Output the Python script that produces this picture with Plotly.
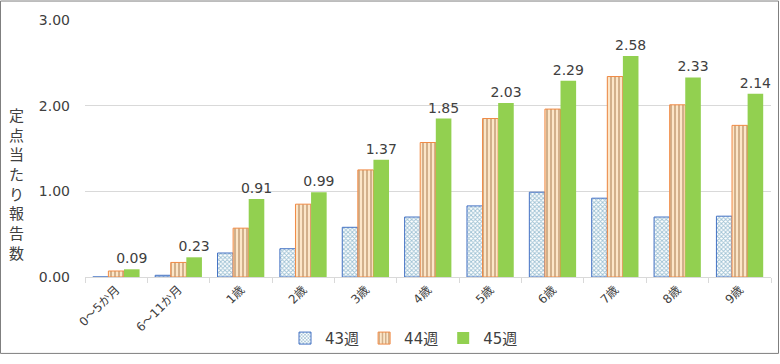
import plotly.graph_objects as go

categories = ["0～5か月", "6～11か月", "1歳", "2歳", "3歳", "4歳", "5歳", "6歳", "7歳", "8歳", "9歳"]
w43 = [0.00, 0.02, 0.28, 0.33, 0.58, 0.70, 0.83, 0.99, 0.92, 0.70, 0.71]
w44 = [0.07, 0.17, 0.57, 0.85, 1.25, 1.57, 1.85, 1.96, 2.34, 2.01, 1.77]
w45 = [0.09, 0.23, 0.91, 0.99, 1.37, 1.85, 2.03, 2.29, 2.58, 2.33, 2.14]
series_names = ["43週", "44週", "45週"]
yticks = [0, 1, 2, 3]
ytitle = "定点当たり報告数"

FONT = "DejaVu Sans, Noto Sans CJK JP"
W, H = 780, 364
L, R, T, B = 85, 9, 20, 80

fig = go.Figure()
fig.add_trace(go.Bar(
    x=categories, y=w43, name=series_names[0],
    marker=dict(color="#4472C4", line=dict(color="#4472C4", width=1),
                pattern=dict(shape="x", fgcolor="#3C83A8", bgcolor="#FFFFFF", size=3, solidity=0.5)),
))
fig.add_trace(go.Bar(
    x=categories, y=w44, name=series_names[1],
    marker=dict(color="#ED7D31", line=dict(color="#F08A45", width=1),
                pattern=dict(shape="|", fgcolor="#A87A4E", bgcolor="#FCE6C8", size=4, solidity=0.5)),
))
fig.add_trace(go.Bar(
    x=categories, y=w45, name=series_names[2],
    marker=dict(color="#92D050", line=dict(color="#92D050", width=0)),
    text=[f"{v:.2f}" for v in w45], textposition="outside", constraintext="none",
    textfont=dict(family=FONT, size=14, color="#404040"), cliponaxis=False,
))

pw = W - L - R
ph = H - T - B
def px2x(p): return (p - L) / pw
def px2y(p): return (H - B - p) / ph

annotations = []
for i, ch in enumerate(ytitle):
    annotations.append(dict(text=ch, xref="paper", yref="paper", borderpad=0,
                            x=px2x(16), y=px2y(117 + i * 20.2), xanchor="center", yanchor="middle",
                            showarrow=False, font=dict(family="Noto Sans CJK JP", size=15, color="#404040")))

fig.update_layout(
    width=W, height=H,
    margin=dict(l=L, r=R, t=T, b=B),
    paper_bgcolor="white", plot_bgcolor="white",
    barmode="group", bargap=0.25, bargroupgap=0,
    font=dict(family=FONT, color="#404040"),
    showlegend=True,
    legend=dict(orientation="h", x=px2x(404), xanchor="center", y=px2y(347), yanchor="middle",
                font=dict(family=FONT, size=15, color="#404040"), itemwidth=30,
                bgcolor="rgba(0,0,0,0)"),
    xaxis=dict(type="category", tickson="boundaries", ticks="outside", ticklen=5, tickcolor="#D9D9D9",
               showline=True, linecolor="#D9D9D9", linewidth=1, tickangle=-45, automargin=False,
               tickfont=dict(family=FONT, size=12, color="#404040")),
    yaxis=dict(range=[0, 3], tickvals=yticks, tickformat=".2f", showgrid=True, gridcolor="#D9D9D9",
               gridwidth=1, zeroline=False, ticks="", ticklabelstandoff=14, automargin=False,
               tickfont=dict(family=FONT, size=14, color="#404040")),
    shapes=[dict(type="rect", xref="paper", yref="paper",
                 x0=px2x(0.5), x1=px2x(778.5), y0=px2y(362.5), y1=px2y(0.5),
                 line=dict(color="#7F7F7F", width=1), fillcolor="rgba(0,0,0,0)", layer="below")],
    annotations=annotations,
)

post = ("document.documentElement.style.margin='0';document.documentElement.style.padding='0';"
        "document.documentElement.style.overflow='hidden';"
        "document.body.style.margin='0';document.body.style.padding='0';document.body.style.overflow='hidden';"
        "var gd=document.getElementById('{plot_id}');gd.style.position='fixed';gd.style.top='0';gd.style.left='0';")
fig.write_html("out.html", config={"displayModeBar": False}, post_script=post)
